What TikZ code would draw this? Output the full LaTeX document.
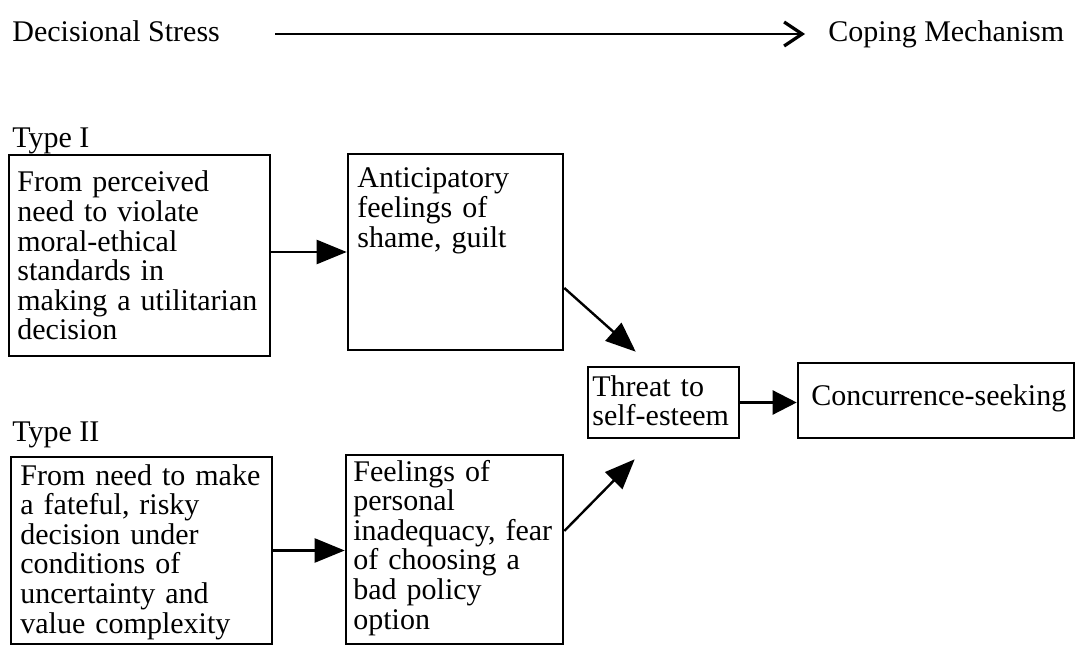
\documentclass[tikz,border=0pt]{standalone}
\usepackage{fontspec}
\setmainfont{Liberation Serif}
\usetikzlibrary{arrows.meta,fit}

\tikzset{
  box/.style={draw, line width=1.3pt, inner sep=0pt},
  lbl/.style={font=\fontsize{15}{14.8}\selectfont, inner sep=0pt,
              anchor=base west, align=left},
  blk/.style={lbl, text width=135pt},
  arr/.style={line width=1.2pt, -{Triangle[length=15pt,width=12pt]}},
  shortarr/.style={line width=1.2pt, -{Triangle[length=12pt,width=12pt]}},
  toparrow/.style={line width=1.2pt, -{Straight Barb[length=9pt,width=12pt,line width=1.6pt]}}
}

\begin{document}
\begin{tikzpicture}[x=0.5pt,y=-0.5pt]
\useasboundingbox (0,0) rectangle (1078,647);

% header
\node[lbl] (ds) at (12,42) {Decisional Stress};
\node[lbl] (cm) at (828,42) {Coping Mechanism};
\draw[toparrow] ([xshift=27.5pt,yshift=4pt]ds.base east) -- ([xshift=-11.5pt,yshift=4pt]cm.base west);

% Type I row
\node[lbl] (t1) at (12,148) {Type I};
\node[box, fit={(9,155) (270,356)}] (a1) {};
\node[blk] (a1t) at (17,192) {From perceived\\need to violate\\moral-ethical\\standards in\\making a utilitarian\\decision};
\node[box, fit={(348,154) (563,350)}] (b1) {};
\node[blk] (b1t) at (357,188) {Anticipatory\\feelings of\\shame, guilt};

% Type II row
\node[lbl] (t2) at (12,441) {Type II};
\node[box, fit={(11,457) (272,644)}] (a2) {};
\node[blk] (a2t) at (20,485) {From need to make\\a fateful, risky\\decision under\\conditions of\\uncertainty and\\value complexity};
\node[box, fit={(346,455) (563,644)}] (b2) {};
\node[blk] (b2t) at (353,481) {Feelings of\\personal\\inadequacy, fear\\of choosing a\\bad policy\\option};

% outcome
\node[box, fit={(588,367) (739,438)}] (th) {};
\node[blk] (tht) at (592,396) {Threat to\\self-esteem};
\node[box, fit={(798,363) (1074,438)}] (cs) {};
\node[lbl] (cst) at (811,405) {Concurrence-seeking};

% connectors
\draw[arr] ([yshift=1.75pt]a1.east) -- ([yshift=1.75pt]a1.east -| b1.west);
\draw[arr] (a2.east) -- (a2.east -| b2.west);
\draw[arr] ([yshift=-18pt]b1.east) -- ([xshift=24.5pt,yshift=7pt]th.north west);
\draw[arr] ([yshift=9.25pt]b2.east) -- ([xshift=24pt,yshift=-10pt]th.south west);
\draw[shortarr] (th.east) -- (th.east -| cs.west);
\end{tikzpicture}
\end{document}
